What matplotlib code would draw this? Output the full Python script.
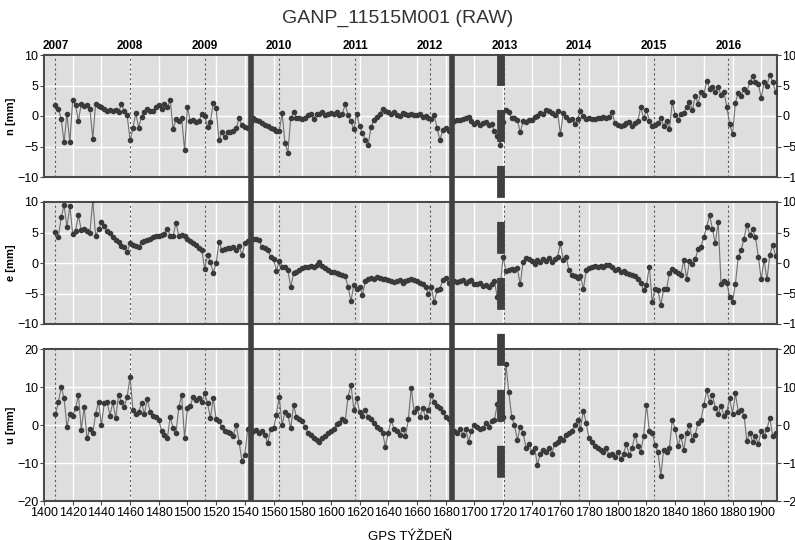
import numpy as np
import matplotlib
matplotlib.use("Agg")
import matplotlib.pyplot as plt
from matplotlib.lines import Line2D
from matplotlib.transforms import blended_transform_factory

plt.rcParams['font.family'] = ['Liberation Sans', 'DejaVu Sans']
plt.rcParams['lines.scale_dashes'] = False

weeks = np.arange(1408, 1911, 2)

n_mm = [
    1.8, 1.2, -0.5, -4.3, 0.3, -4.3, 2.6, 1.8, -0.8, 2.0,
    1.6, 1.8, 1.2, -3.7, 2.0, 1.6, 1.4, 1.1, 0.9, 1.0,
    0.8, 1.0, 0.7, 1.9, 0.8, 0.1, -4.0, -2.0, 0.5, -1.9,
    -0.1, 0.6, 1.2, 0.9, 0.8, 1.5, 1.8, 1.2, 2.0, 1.4,
    2.6, -2.2, -0.5, -0.8, -0.4, -5.6, 1.4, -0.8, -0.6, -1.0,
    -0.9, 0.4, 0.0, -1.8, -1.0, 2.2, 1.3, -4.0, -2.6, -3.5,
    -2.7, -2.6, -2.4, -2.0, -0.4, -1.5, -1.8, -2.0, -1.0, -0.4,
    -0.7, -0.9, -1.1, -1.5, -1.7, -2.0, -2.2, -2.4, -2.5, 0.5,
    -4.4, -6.0, -0.4, 0.7, -0.3, -0.4, -0.5, -0.3, 0.2, 0.3,
    -0.5, 0.4, 0.3, 0.6, 0.2, 0.3, 0.5, 0.3, 0.6, 0.2,
    0.4, 1.9, 0.1, -0.9, -2.2, 0.4, -1.7, -2.8, -4.0, -4.7,
    -1.8, -0.7, -0.2, 0.4, 1.2, 0.8, 0.6, 0.4, 0.6, 0.2,
    0.0, 0.5, 0.3, 0.2, 0.3, 0.2, 0.1, 0.3, -0.1, 0.0,
    -0.3, -0.5, 0.2, -2.0, -3.9, -2.3, -2.0, -2.4, -2.2, -0.8,
    -0.7, -0.6, -0.5, -0.4, -0.2, -0.9, -1.3, -1.0, -1.4, -1.2,
    -1.0, -1.5, -1.3, -2.5, -3.3, -4.7, -1.0, 1.0, 0.7, -0.4,
    -0.3, -0.6, -2.7, -0.9, -1.0, -0.7, -0.6, -0.2, 0.0, 0.5,
    0.3, 1.0, 0.9, 0.5, 0.2, 0.8, -3.0, 0.5, -0.2, -0.6,
    -0.5, -1.3, -0.5, 0.8, 0.0, -0.5, -0.4, -0.5, -0.5, -0.4,
    -0.4, -0.2, -0.3, -0.2, 0.7, -1.2, -1.5, -1.6, -1.5, -1.2,
    -1.0, -1.6, -1.2, -0.8, 1.5, -0.4, 1.0, -0.8, -1.7, -1.5,
    -1.2, -0.3, -1.6, -0.8, -2.2, 2.3, 0.2, -0.6, 0.3, 0.5,
    1.5, 2.3, 1.0, 3.2, 2.0, 4.0, 3.5, 5.8, 4.5, 4.8,
    4.0, 4.8, 3.4, 4.0, 1.5, -1.3, -3.0, 2.2, 3.8, 3.2,
    4.5, 4.0, 5.5, 6.5, 5.6, 5.2, 3.0, 5.5, 5.0, 6.8,
    5.5, 4.0,
]

e_mm = [
    5.1, 4.3, 7.5, 9.5, 5.9, 9.3, 4.8, 5.3, 7.8, 5.4,
    5.5, 5.2, 5.0, 10.3, 4.4, 5.5, 6.7, 6.0, 5.3, 5.0,
    4.2, 3.8, 3.5, 2.8, 2.6, 1.8, 3.2, 3.0, 2.8, 2.6,
    3.4, 3.6, 3.8, 4.0, 4.2, 4.4, 4.5, 4.6, 4.8, 5.6,
    4.5, 4.4, 6.6, 4.4, 4.6, 4.4, 3.9, 3.6, 3.2, 3.0,
    2.4, 2.2, -1.0, 1.3, 0.2, -1.6, 0.0, 3.4, 2.2, 2.3,
    2.4, 2.5, 2.6, 2.2, 2.8, 1.3, 3.2, 3.6, 3.9, 4.0,
    4.0, 3.7, 2.6, 2.4, 2.2, 1.0, 0.7, -1.3, 0.4, -0.6,
    -0.6, -1.2, -3.9, -1.7, -1.5, -1.2, -0.8, -0.6, -0.7, -0.5,
    -0.6, -0.3, 0.1, -0.5, -0.9, -1.2, -1.4, -1.5, -1.7, -1.8,
    -2.0, -2.1, -4.0, -6.2, -3.6, -4.3, -4.0, -5.2, -3.0, -2.6,
    -2.4, -2.6, -2.3, -2.5, -2.6, -2.7, -2.8, -3.0, -3.1, -2.9,
    -2.8, -3.2, -3.0, -2.8, -2.6, -2.8, -3.0, -3.2, -3.5, -4.0,
    -5.0, -4.0, -6.4, -4.5, -4.2, -2.8, -2.5, -3.2, -3.0, -3.0,
    -3.1, -2.9, -2.8, -3.2, -3.0, -2.8, -3.4, -3.5, -3.2, -3.8,
    -3.6, -3.9, -3.4, -3.0, -5.6, -4.0, 1.0, -1.3, -1.2, -1.0,
    -1.2, -0.9, -3.5, 0.2, 0.8, 0.6, 0.3, -0.2, 0.5, 0.2,
    0.6, 0.4, 0.9, 0.2, 0.6, 1.0, 3.2, 0.5, 1.0, -1.2,
    -2.0, -2.2, -2.5, -2.1, -4.3, -1.2, -0.8, -0.6, -0.5, -0.7,
    -0.5, -0.6, -0.4, -0.3, -0.6, -1.2, -1.0, -1.4, -1.3, -1.6,
    -1.8, -2.0, -2.2, -2.6, -3.2, -4.5, -3.6, -0.6, -6.4, -4.2,
    -4.5, -6.9, -4.3, -4.2, -1.7, -1.0, -1.3, -1.6, -2.0, 0.5,
    -2.6, 0.4, -0.2, 0.6, 2.3, 2.6, 4.3, 5.9, 7.8, 5.6,
    3.2, 6.7, -3.4, -3.0, -3.2, -5.6, -6.4, -3.4, 1.0, 2.1,
    4.0, 6.3, 4.6, 5.5, 4.2, 1.0, -2.7, 0.5, -2.7, 1.3,
    3.0, 1.2,
]

u_mm = [
    2.8, 6.0, 10.0, 7.0, -0.4, 3.0, 2.5, 4.4, 7.9, -1.3,
    4.8, -3.5, -1.0, -2.2, 3.0, 6.1, 0.0, 5.7, 6.0, 2.5,
    6.0, 1.8, 7.9, 6.0, 4.8, 7.5, 12.7, 4.0, 3.0, 3.5,
    5.7, 3.0, 6.8, 3.5, 2.5, 2.2, 1.3, -1.5, -2.5, -3.5,
    2.2, -0.9, -2.2, 4.8, 7.9, -3.5, 4.4, 5.0, 7.5, 6.5,
    7.2, 6.0, 8.3, 5.7, 1.8, 7.0, 1.5, 1.0, -0.5, -1.5,
    -1.8, -2.2, -2.8, 0.0, -4.4, -9.5, -7.8, -1.0, -2.0, -1.5,
    -1.2, -2.0, -1.5, -2.5, -4.8, -1.0, -0.9, 2.6, 7.5, 0.0,
    3.5, 2.6, -0.9, 5.3, 2.0, 1.5, 1.0, -0.5, -2.0, -2.5,
    -3.5, -4.0, -4.4, -3.5, -3.0, -2.0, -1.5, -1.0, 0.2, 0.5,
    1.5, 1.0, 7.5, 10.5, 4.0, 7.0, 3.5, 2.5, 4.0, 2.0,
    1.5, 0.5, -0.5, -1.0, -2.0, -5.7, -2.0, 1.3, -1.0, -1.5,
    -2.5, -1.0, -3.0, 1.5, 9.8, 3.5, 4.5, 2.0, 4.5, 2.0,
    4.0, 7.9, 6.0, 5.0, 4.5, 3.5, 2.0, 1.5, 0.5, -1.5,
    -2.0, -1.0, -2.5, -1.0, -4.4, -1.5, 0.0, -0.5, -1.0, -0.8,
    0.5, -0.5, 1.0, 1.3, 5.4, 1.5, 2.0, 16.0, 8.8, 2.2,
    0.0, -4.0, -0.5, -2.0, -6.0, -5.0, -7.0, -6.0, -10.5, -7.5,
    -6.5, -7.0, -6.0, -7.5, -5.0, -4.5, -3.5, -4.0, -2.5, -2.0,
    -1.5, 0.0, 1.3, -1.0, 3.8, 0.5, -3.5, -4.5, -5.5, -6.0,
    -6.5, -7.0, -6.0, -8.0, -7.5, -8.5, -7.0, -9.0, -7.5, -5.0,
    -8.0, -6.0, -2.6, -5.5, -7.0, -3.0, 5.3, -1.5, -2.0, -5.3,
    -7.0, -13.3, -6.5, -7.0, -6.0, 1.3, -1.0, -5.5, -3.0, -6.5,
    -2.0, 0.0, -4.0, -2.5, 0.5, 1.3, 5.3, 9.2, 6.0, 7.9,
    4.5, 3.0, 5.0, 2.5, 3.5, 7.0, 3.0, 8.3, 3.5, 4.0,
    2.5, -4.2, -2.0, -4.5, -3.0, -5.0, -1.5, -3.0, -1.0, 1.8,
    -3.0, -2.2,
]

year_weeks = [1408, 1460, 1512, 1564, 1617, 1669, 1721, 1773, 1825, 1877]
year_labels = ['2007', '2008', '2009', '2010', '2011', '2012',
               '2013', '2014', '2015', '2016']
offset_weeks = [1544.6, 1684.6]   # solid bars
change_week = 1718.9              # dashed bar

W, H = 795, 540
fig = plt.figure(figsize=(W / 100, H / 100), dpi=100)


def box(top, bottom):
    return [44 / W, 1 - bottom / H, 733 / W, (bottom - top) / H]


panels = [
    ('n [mm]', n_mm, (-10, 10), [-10, -5, 0, 5, 10], box(55, 177)),
    ('e [mm]', e_mm, (-10, 10), [-10, -5, 0, 5, 10], box(202, 324)),
    ('u [mm]', u_mm, (-20, 20), [-20, -10, 0, 10, 20], box(349, 501)),
]

axes = []
for label, vals, ylim, yticks, pos in panels:
    ax = fig.add_axes(pos)
    ax.set_facecolor('#dedede')
    ax.set_xlim(1400, 1911)
    ax.set_ylim(*ylim)
    ax.set_xticks(np.arange(1400, 1911, 20))
    ax.set_yticks(yticks)
    ax.grid(True, color='white', lw=1.0)
    ax.set_axisbelow(True)
    for yw in year_weeks:
        ax.axvline(yw, color='#555555', ls=(0, (1.5, 2)), lw=0.8, zorder=1)
    ax.plot(weeks, vals, '-', color='#707070', lw=0.8, zorder=2)
    ax.plot(weeks, vals, 'o', color='#3a3a3a', ms=3.0, mec='#3a3a3a', zorder=3)
    for s in ax.spines.values():
        s.set_color('#4a4a4a')
        s.set_linewidth(1.5)
    ax.tick_params(axis='y', which='both', left=True, right=True,
                   labelleft=True, labelright=True, labelsize=9,
                   length=3, color='#4a4a4a', pad=1)
    ax.tick_params(axis='x', length=3, color='#4a4a4a', labelsize=9, pad=1)
    ax.set_ylabel(label, fontsize=8, fontweight='bold', labelpad=1)
    axes.append(ax)

for ax in axes[:2]:
    ax.tick_params(axis='x', labelbottom=False, length=0)

top = axes[0].secondary_xaxis('top')
top.set_xticks(year_weeks)
top.set_xticklabels(year_labels, fontsize=8.5, fontweight='bold')
top.tick_params(length=0, pad=2)
top.spines['top'].set_visible(False)

axes[2].set_xlabel('GPS TÝŽDEŇ', fontsize=9.5, labelpad=9)

fig.text(0.5, 1 - 18 / H, 'GANP_11515M001 (RAW)', ha='center', va='center',
         fontsize=14, color='#333333')

# vertical bars spanning all three panels
tr = blended_transform_factory(axes[2].transData, fig.transFigure)
y_top, y_bot = 1 - 54 / H, 1 - 501 / H
for xw in offset_weeks:
    fig.add_artist(Line2D([xw, xw], [y_top, y_bot], transform=tr,
                          color='#404040', lw=4.0, solid_capstyle='butt'))
fig.add_artist(Line2D([change_week, change_week], [y_top, y_bot], transform=tr,
                      color='#404040', lw=5.6, ls=(0, (23.0, 17.3)),
                      dash_capstyle='butt'))

fig.savefig('out.png', dpi=100)
